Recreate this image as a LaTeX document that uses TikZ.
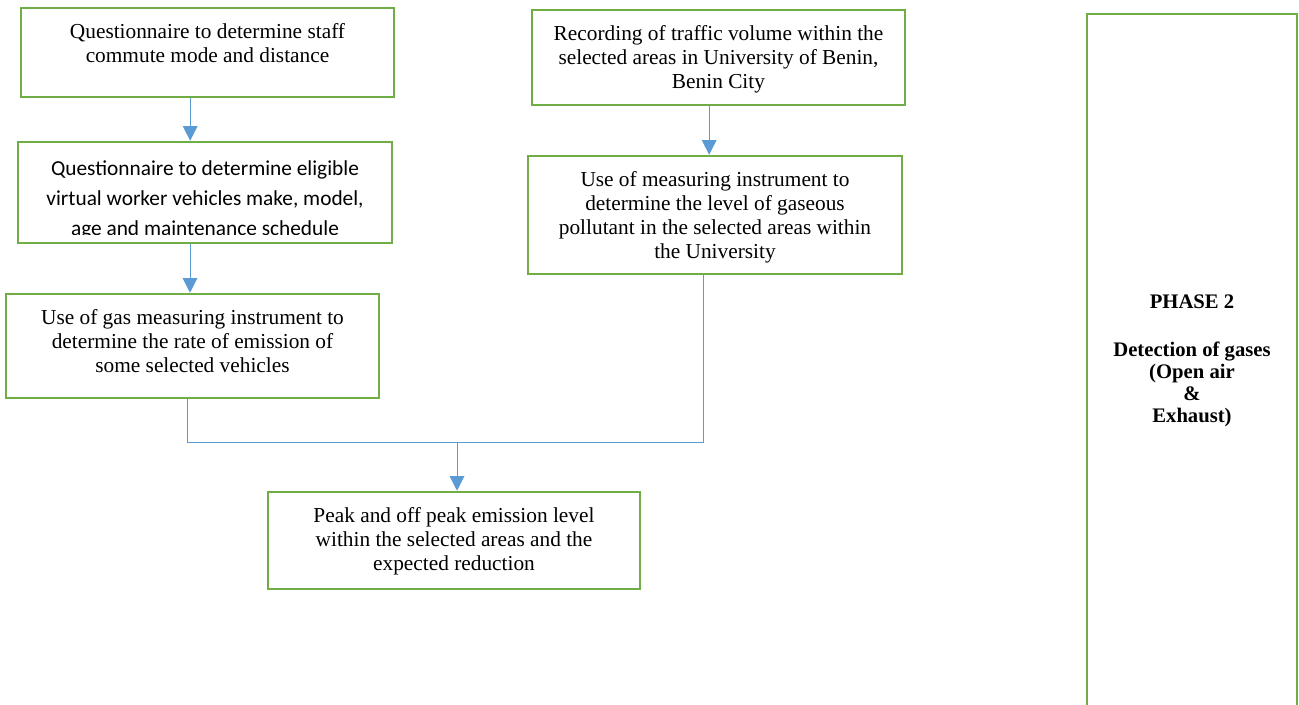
\documentclass[tikz,border=0pt]{standalone}
\usepackage{fontspec}
\setmainfont{Liberation Serif}
\newfontfamily\calibrifont{Carlito}
\usetikzlibrary{arrows.meta,positioning,fit}
\definecolor{boxgreen}{HTML}{70AD47}
\definecolor{flowblue}{HTML}{5B9BD5}
\tikzset{
  frame/.style={draw=boxgreen, line width=1.9pt, inner sep=0pt},
  boxtext/.style={align=center, inner sep=0pt, font=\fontsize{16}{18}\selectfont},
  calitext/.style={align=center, inner sep=0pt, font=\calibrifont\fontsize{16}{22.5}\selectfont},
  phasetext/.style={align=center, inner sep=0pt, font=\bfseries\fontsize{15.5}{16.5}\selectfont},
  link/.style={draw=flowblue, line width=0.75pt},
  arrow/.style={link, -{Triangle[length=11pt, width=11pt]}}
}

\begin{document}
\begin{tikzpicture}[x=0.75pt,y=-0.75pt]
  \clip (0,0) rectangle (1299,704);
  % frames
  \node[frame, fit={(21,8) (394,97)}] (staff) {};
  \node[frame, fit={(18,142) (392,243)}] (vehicle) {};
  \node[frame, fit={(6,294) (379,398)}] (gasrate) {};
  \node[frame, fit={(532,10) (905,105)}] (traffic) {};
  \node[frame, fit={(528,156) (902,274)}] (pollutant) {};
  \node[frame, fit={(268,492) (640,589)}] (peak) {};
  \node[frame, fit={(1087,14) (1297,730)}] (phase) {};
  % texts
  \node[boxtext, below=12.5pt of staff.north] (stafftxt)
    {Questionnaire to determine staff\\commute mode and distance};
  \begin{scope}
    \clip (vehicle.north west) rectangle ([yshift=7.5pt]vehicle.south east);
    \node[calitext, below=14.75pt of vehicle.north] (vehicletxt)
      {Questionnaire to determine eligible\\virtual worker vehicles make, model,\\age and maintenance schedule};
  \end{scope}
  \node[boxtext, below=12.5pt of gasrate.north] (gasratetxt)
    {Use of gas measuring instrument to\\determine the rate of emission of\\some selected vehicles};
  \node[boxtext, below=12.5pt of traffic.north] (traffictxt)
    {Recording of traffic volume within the\\selected areas in University of Benin,\\Benin City};
  \node[boxtext, below=12.5pt of pollutant.north] (pollutanttxt)
    {Use of measuring instrument to\\determine the level of gaseous\\pollutant in the selected areas within\\the University};
  \node[boxtext, below=12.5pt of peak.north] (peaktxt)
    {Peak and off peak emission level\\within the selected areas and the\\expected reduction};
  \node[phasetext, below=211pt of phase.north] (phasetxt)
    {PHASE 2\\[19.5pt]Detection of gases\\(Open air\\\&\\Exhaust)};
  % connectors
  \coordinate (junc) at (457,442);
  \draw[arrow] ([xshift=-13pt]staff.south) -- ([xshift=-13pt]staff.south |- vehicle.north);
  \draw[arrow] ([xshift=-11.25pt]vehicle.south) -- ([xshift=-11.25pt]vehicle.south |- gasrate.north);
  \draw[arrow] ([xshift=-7pt]traffic.south) -- ([xshift=-7pt]traffic.south |- pollutant.north);
  \draw[link] ([xshift=-3.4pt]gasrate.south) |- ([xshift=-9pt]pollutant.south |- junc)
    -- ([xshift=-9pt]pollutant.south);
  \draw[arrow] (junc) -- (junc |- peak.north);
\end{tikzpicture}
\end{document}
